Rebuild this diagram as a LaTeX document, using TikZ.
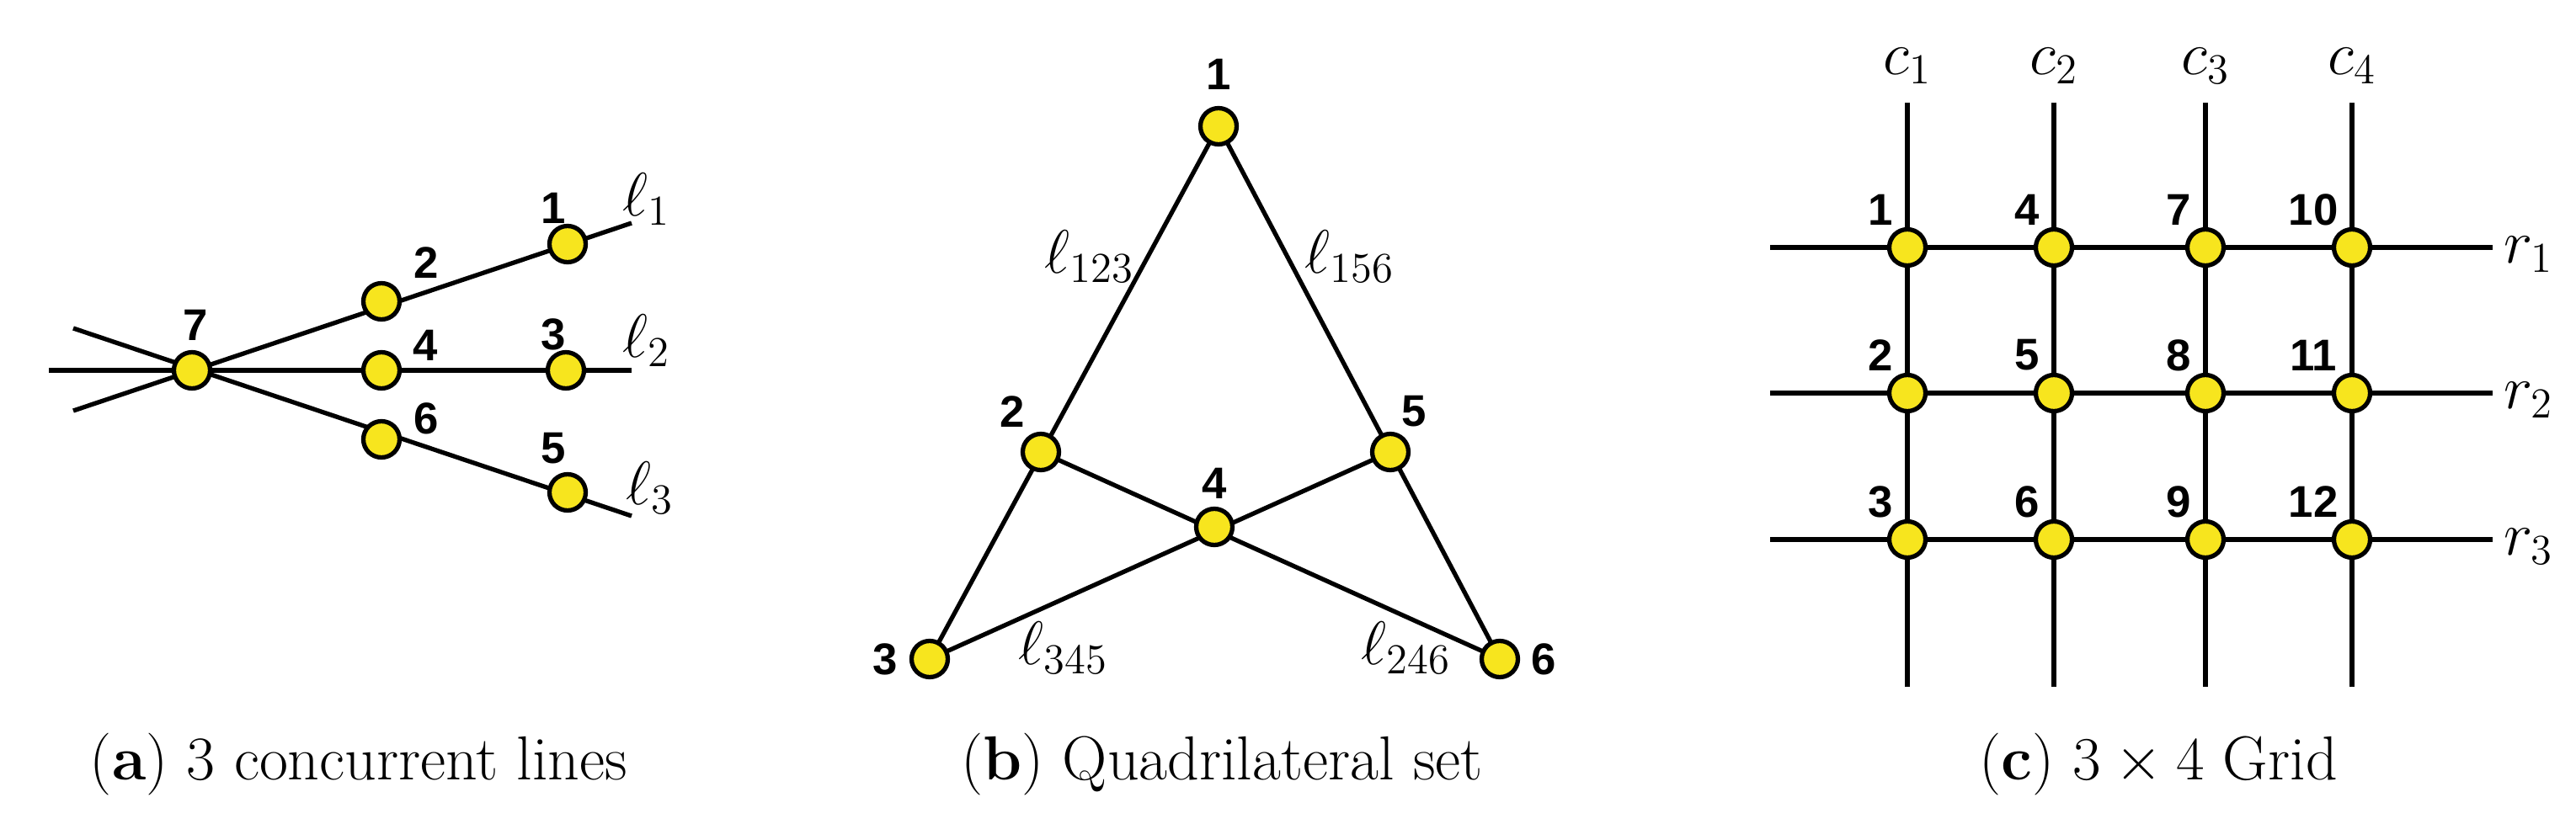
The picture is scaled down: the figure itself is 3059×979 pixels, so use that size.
\documentclass[tikz,border=0pt]{standalone}
\usepackage{fontspec}
\newfontfamily\lab{Liberation Sans}
\definecolor{vy}{HTML}{F7E51E}
\begin{document}
\begin{tikzpicture}[x=0.01cm,y=-0.01cm,
  vtx/.style={circle,draw=black,fill=vy,line width=1.5pt,minimum size=0.43cm,inner sep=0pt},
  num/.style={font=\lab\fontsize{15}{15}\selectfont},
  ml/.style={font=\fontsize{20}{20}\selectfont,inner sep=0pt},
  captext/.style={font=\fontsize{21}{21}\selectfont,inner sep=0pt},
  ln/.style={line width=1.5pt}]
\useasboundingbox (0,0) rectangle (3059,979);
% ---------- panel a
\coordinate (a7) at (228,440);
\coordinate (a2) at (453,358);
\coordinate (a1) at (674,290);
\coordinate (a4) at (453,440);
\coordinate (a3) at (672,440);
\coordinate (a6) at (453,522);
\coordinate (a5) at (674,585);
\coordinate (aL1) at (87,488); \coordinate (aR1) at (750,265);
\coordinate (aL2) at (58,440); \coordinate (aR2) at (750,440);
\coordinate (aL3) at (87,390); \coordinate (aR3) at (750,613);
\draw[ln] (aL1) -- (aR1);
\draw[ln] (aL2) -- (aR2);
\draw[ln] (aL3) -- (aR3);
\foreach \n in {1,...,7} \node[vtx] (na\n) at (a\n) {};
\node[num] (ta1) at (657,247) {\textbf{1}};
\node[num] (ta2) at (506,312) {\textbf{2}};
\node[num] (ta7) at (232,386) {\textbf{7}};
\node[num] (ta4) at (505,410) {\textbf{4}};
\node[num] (ta3) at (657,397) {\textbf{3}};
\node[num] (ta6) at (506,497) {\textbf{6}};
\node[num] (ta5) at (657,533) {\textbf{5}};
\node[ml] (la1) at (768,237) {$\ell_1$};
\node[ml] (la2) at (768,405) {$\ell_2$};
\node[ml] (la3) at (772,580) {$\ell_3$};
\node[captext] (capa) at (426,908) {(\textbf{a}) 3 concurrent lines};
% ---------- panel b
\coordinate (b1) at (1447,150);
\coordinate (b2) at (1236,537);
\coordinate (b5) at (1651,537);
\coordinate (b4) at (1442,626);
\coordinate (b3) at (1104,783);
\coordinate (b6) at (1781,783);
\draw[ln] (b1) -- (b3);
\draw[ln] (b1) -- (b6);
\draw[ln] (b2) -- (b6);
\draw[ln] (b3) -- (b5);
\foreach \n in {1,...,6} \node[vtx] (nb\n) at (b\n) {};
\node[num] (tb1) at (1447,88) {\textbf{1}};
\node[num] (tb2) at (1202,489) {\textbf{2}};
\node[num] (tb5) at (1679,489) {\textbf{5}};
\node[num] (tb4) at (1442,574) {\textbf{4}};
\node[num] (tb3) at (1051,783) {\textbf{3}};
\node[num] (tb6) at (1833,783) {\textbf{6}};
\node[ml] (lb1) at (1294,305) {$\ell_{123}$};
\node[ml] (lb2) at (1603,305) {$\ell_{156}$};
\node[ml] (lb3) at (1263,770) {$\ell_{345}$};
\node[ml] (lb4) at (1670,770) {$\ell_{246}$};
\node[captext] (capb) at (1451,908) {(\textbf{b}) Quadrilateral set};
% ---------- panel c
\foreach \c/\x in {1/2265,2/2439,3/2619,4/2793}{
  \coordinate (ct\c) at (\x,122); \coordinate (cb\c) at (\x,816);
  \draw[ln] (ct\c) -- (cb\c);
  \node[ml] (lc\c) at (\x,78) {$c_{\c}$};
}
\foreach \r/\y in {1/294,2/467,3/641}{
  \coordinate (rl\r) at (2102,\y); \coordinate (rr\r) at (2960,\y);
  \draw[ln] (rl\r) -- (rr\r);
  \node[ml] (lr\r) at (3003,\y+8) {$r_{\r}$};
}
\foreach \c/\x in {1/2265,2/2439,3/2619,4/2793}{
  \foreach \r/\y in {1/294,2/467,3/641}{
    \node[vtx] (nc\c\r) at (\x,\y) {};
  }
}
\foreach \c/\x/\dx in {1/2265/32,2/2439/32,3/2619/32,4/2793/46}{
  \foreach \r/\y in {1/294,2/467,3/641}{
    \pgfmathtruncatemacro{\k}{(\c-1)*3+\r}
    \node[num] (tc\c\r) at (\x-\dx,\y-45) {\textbf{\k}};
  }
}
\node[captext] (capc) at (2563,908) {(\textbf{c}) $3\times4$ Grid};
\end{tikzpicture}
\end{document}
